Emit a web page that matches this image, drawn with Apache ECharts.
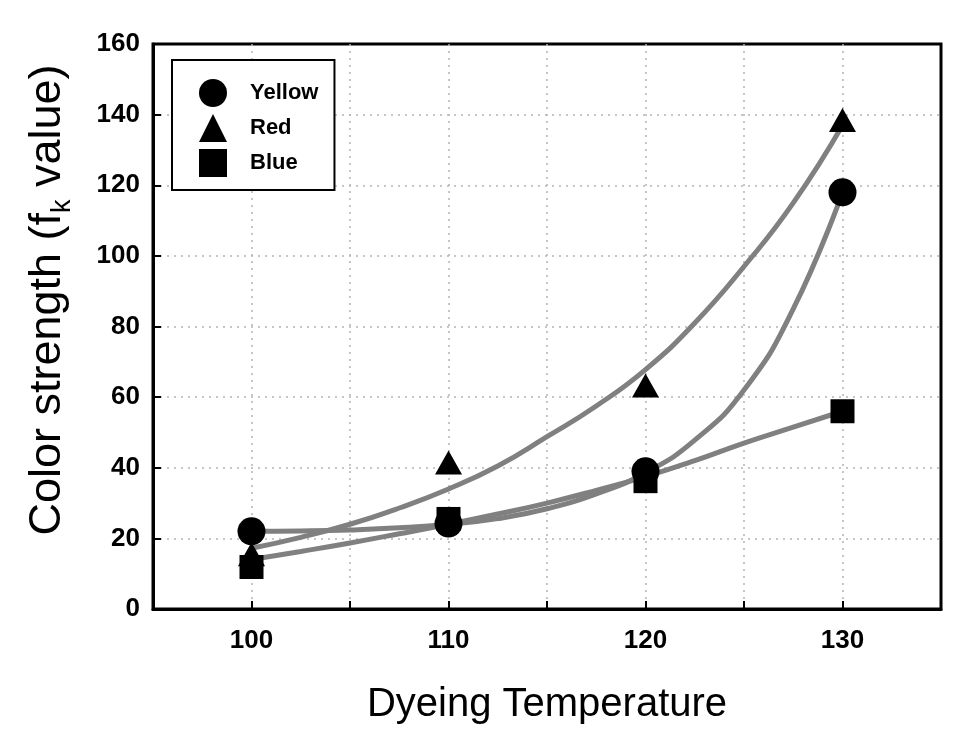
<!DOCTYPE html>
<html><head><meta charset="utf-8">
<script src="https://cdn.jsdelivr.net/npm/echarts/dist/echarts.min.js"></script>
<style>html,body{margin:0;padding:0;background:#fff}#c{width:977px;height:739px}</style>
</head><body><div id="c"></div>
<script>
// measured points
const temps = [100, 110, 120, 130];
const yellow = [22, 24.2, 39, 118];
const red = [15.5, 41.5, 63.3, 138.5];
const blue = [11.9, 25.5, 36.2, 56];
// fitted curves
const fitX = [100, 102.5, 105, 107.5, 110, 112.5, 115, 117.5, 120, 122.5, 125, 127.5, 130];
const fitYellow = [22, 22.1, 22.4, 23, 24, 25.6, 28.4, 32.6, 38.6, 47.8, 62, 85, 118];
const fitRed = [17.2, 20.3, 24, 28.6, 34, 40.5, 48.8, 57.5, 67.8, 81, 97, 115, 137];
const fitBlue = [14, 16.3, 18.7, 21.3, 24, 26.9, 30, 33.6, 37.5, 42, 47, 51.5, 56];
// tick labels
const xTickLabels = [100, 110, 120, 130];
const yTickLabels = [0, 20, 40, 60, 80, 100, 120, 140, 160];

const FONT = 'Arial, "Liberation Sans", Helvetica, sans-serif';
const chart = echarts.init(document.getElementById('c'), null, {renderer: 'canvas'});

const pairs = (xs, ys) => xs.map((x, i) => [x, ys[i]]);
const fitStyle = {color: '#808080', width: 5};
const gridLine = {show: true, showMinLine: false, showMaxLine: false, lineStyle: {color: '#b4b4b4', width: 1.5, type: [2, 5]}};
const fitSeries = ys => ({type: 'line', data: pairs(fitX, ys), smooth: true, symbol: 'none', lineStyle: fitStyle, z: 2, silent: true});

chart.setOption({
  animation: false,
  backgroundColor: '#fff',
  grid: {left: 153, right: 36, top: 44, bottom: 130, show: true, borderColor: '#000', borderWidth: 3, backgroundColor: 'transparent'},
  xAxis: {
    type: 'value', min: 95, max: 135, interval: 5,
    name: 'Dyeing Temperature', nameLocation: 'middle', nameGap: 76,
    nameTextStyle: {fontFamily: FONT, fontSize: 40, color: '#000'},
    axisLine: {show: true, lineStyle: {color: '#000', width: 3}},
    axisTick: {show: true, inside: true, length: 8, lineStyle: {color: '#000', width: 2}},
    axisLabel: {
      margin: 19, fontFamily: FONT, fontSize: 26, fontWeight: 'bold', color: '#000',
      formatter: v => xTickLabels.includes(v) ? String(v) : ''
    },
    splitLine: gridLine
  },
  yAxis: {
    type: 'value', min: 0, max: 160, interval: 20,
    axisLine: {show: true, lineStyle: {color: '#000', width: 3}},
    axisTick: {show: true, inside: true, length: 8, lineStyle: {color: '#000', width: 2}},
    axisLabel: {
      margin: 13, fontFamily: FONT, fontSize: 26, fontWeight: 'bold', color: '#000',
      formatter: v => yTickLabels.includes(v) ? String(v) : ''
    },
    splitLine: gridLine
  },
  legend: {
    orient: 'vertical', left: 172, top: 60,
    padding: [19, 16, 13, 27],
    itemWidth: 28, itemHeight: 28, itemGap: 7,
    borderColor: '#000', borderWidth: 2, borderRadius: 0, backgroundColor: '#fff',
    itemStyle: {opacity: 1, color: '#000'},
    textStyle: {fontFamily: FONT, fontSize: 22, fontWeight: 'bold', color: '#000', padding: [0, 0, 0, 18]},
    data: [
      {name: 'Yellow', icon: 'circle'},
      {name: 'Red', icon: 'triangle'},
      {name: 'Blue', icon: 'rect'}
    ]
  },
  graphic: [{
    type: 'text', x: 48, y: 300, rotation: Math.PI / 2,
    style: {
      text: 'Color strength (f{sub|k} value)',
      rich: {sub: {fontSize: 27, fontFamily: FONT, verticalAlign: 'bottom', fill: '#000'}},
      fontFamily: FONT, fontSize: 45, fill: '#000', lineHeight: 56,
      align: 'center', verticalAlign: 'middle'
    }
  }],
  series: [
    fitSeries(fitYellow),
    fitSeries(fitRed),
    fitSeries(fitBlue),
    {type: 'scatter', name: 'Yellow', data: pairs(temps, yellow), symbol: 'circle', symbolSize: 28, itemStyle: {color: '#000', opacity: 1}, z: 5},
    {type: 'scatter', name: 'Red', data: pairs(temps, red), symbol: 'triangle', symbolSize: [27, 24], itemStyle: {color: '#000', opacity: 1}, z: 5},
    {type: 'scatter', name: 'Blue', data: pairs(temps, blue), symbol: 'rect', symbolSize: 24, itemStyle: {color: '#000', opacity: 1}, z: 5}
  ]
});
</script>
</body></html>
